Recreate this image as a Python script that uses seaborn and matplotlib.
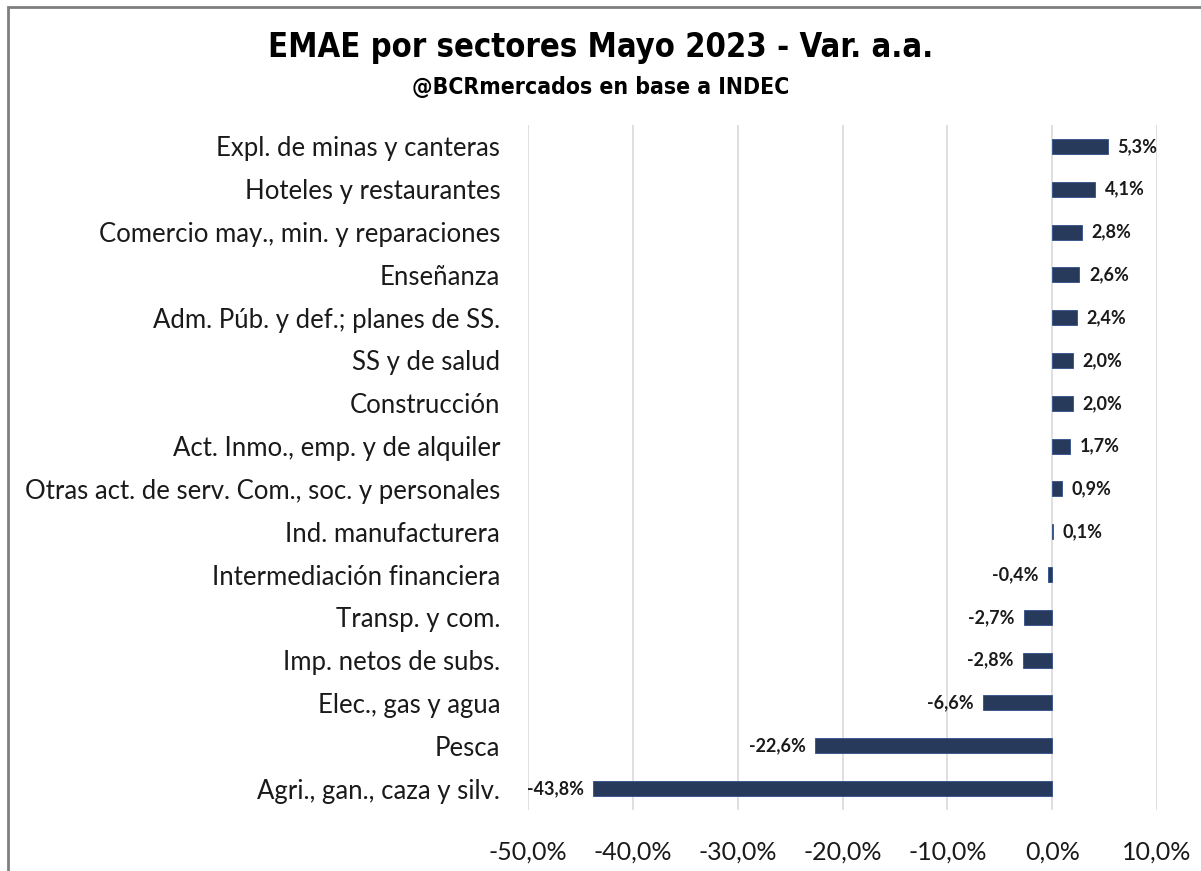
import matplotlib
matplotlib.use("Agg")
import matplotlib.pyplot as plt
import matplotlib.ticker as mticker
from matplotlib.patches import Rectangle
import pandas as pd
import seaborn as sns

# Data
sectores = ["Expl. de minas y canteras", "Hoteles y restaurantes",
            "Comercio may., min. y reparaciones", "Enseñanza",
            "Adm. Púb. y def.; planes de SS.", "SS y de salud", "Construcción",
            "Act. Inmo., emp. y de alquiler",
            "Otras act. de serv. Com., soc. y personales",
            "Ind. manufacturera", "Intermediación financiera",
            "Transp. y com.", "Imp. netos de subs.", "Elec., gas y agua",
            "Pesca", "Agri., gan., caza y silv."]
var_aa = [5.3, 4.1, 2.8, 2.6, 2.4, 2.0, 2.0, 1.7, 0.9, 0.1,
          -0.4, -2.7, -2.8, -6.6, -22.6, -43.8]
xticks = [-50, -40, -30, -20, -10, 0, 10]

df = pd.DataFrame({"sector": sectores, "var": var_aa})

navy = "#1F3864"

sns.set_style("whitegrid")
plt.rcParams["font.family"] = ["Lato", "DejaVu Sans"]

fig = plt.figure(figsize=(12.01, 8.71), dpi=100)
ax = fig.add_axes([0.4396, 0.070, 0.5238, 0.7865])

sns.barplot(data=df, x="var", y="sector", orient="h", color=navy,
            width=0.35, edgecolor="#2F4F8A", linewidth=0.6, ax=ax)

ax.set_xlim(-50, 10)
ax.set_xticks(xticks)
ax.xaxis.set_major_formatter(mticker.FuncFormatter(
    lambda v, p: f"{v:.1f}%".replace(".", ",")))
ax.grid(axis="x", color="#D9D9D9", linewidth=1.2)
ax.grid(axis="y", visible=False)
for s in ax.spines.values():
    s.set_visible(False)
ax.set_xlabel("")
ax.set_ylabel("")
ax.tick_params(axis="x", length=0, pad=22, labelsize=18, labelcolor="#1a1a1a")
ax.tick_params(axis="y", length=0, pad=20, labelsize=18.5, labelcolor="#1a1a1a")

# value labels
for i, v in enumerate(var_aa):
    txt = f"{v:.1f}%".replace(".", ",")
    if v >= 0:
        ax.text(v + 0.9, i, txt, va="center", ha="left", fontsize=13,
                fontweight="bold", color="#1a1a1a")
    else:
        ax.text(v - 0.9, i, txt, va="center", ha="right", fontsize=13,
                fontweight="bold", color="#1a1a1a")

fig.text(0.5, 0.945, "EMAE por sectores Mayo 2023 - Var. a.a.", ha="center",
         va="center", fontsize=23.5, fontweight="bold", fontstretch="condensed",
         family="DejaVu Sans", color="black")
fig.text(0.5, 0.899, "@BCRmercados en base a INDEC", ha="center",
         va="center", fontsize=16.5, fontweight="bold", fontstretch="condensed",
         family="DejaVu Sans", color="black")

# outer frame
fig.patches.append(Rectangle((8 / 1201, -0.05), 1.2, 1.05 - 7 / 871,
                             transform=fig.transFigure, fill=False,
                             edgecolor="#7F7F7F", linewidth=2))

fig.savefig("out.png", dpi=100)
